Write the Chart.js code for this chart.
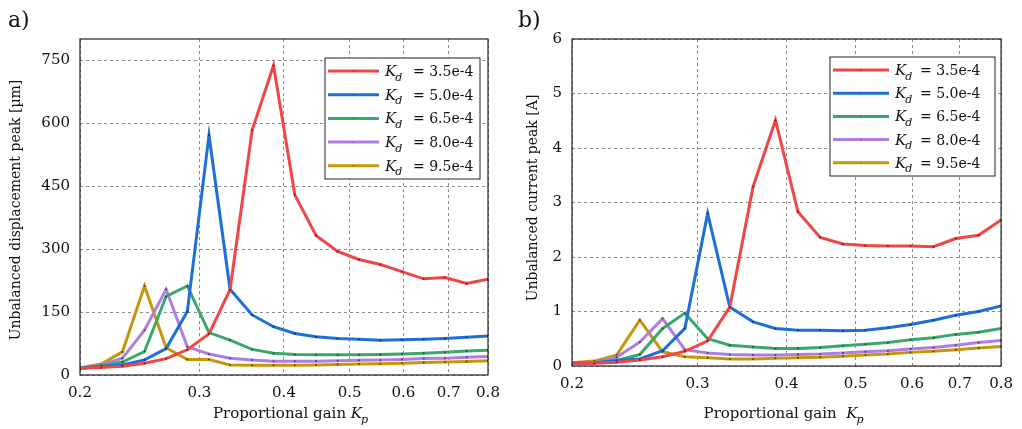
<!DOCTYPE html>
<html>
<head>
<meta charset="utf-8">
<script src="https://cdn.jsdelivr.net/npm/chart.js@4/dist/chart.umd.min.js"></script>
<style>
  html, body { margin: 0; padding: 0; background: #fff; }
  #wrap { position: relative; width: 1022px; height: 429px; }
  .panel { position: absolute; top: 0; width: 511px; height: 429px; }
</style>
</head>
<body>
<div id="wrap">
  <div class="panel" style="left:0"><canvas id="chartA" width="511" height="429"></canvas></div>
  <div class="panel" style="left:511px"><canvas id="chartB" width="511" height="429"></canvas></div>
</div>
<script>
// proportional gain samples (x), log-spaced
const kp = [0.2, 0.215, 0.231, 0.249, 0.268, 0.288, 0.310, 0.333, 0.359, 0.386,
            0.415, 0.446, 0.480, 0.516, 0.555, 0.597, 0.643, 0.691, 0.744, 0.8];
const kdLabels = ['3.5e-4', '5.0e-4', '6.5e-4', '8.0e-4', '9.5e-4'];
const xTicks = [0.2, 0.3, 0.4, 0.5, 0.6, 0.7, 0.8];
const dispTicks = [0, 150, 300, 450, 600, 750];
const currTicks = [0, 1, 2, 3, 4, 5, 6];

// a) unbalanced displacement peak [um]
const disp35 = [16, 18, 21, 28, 39, 60, 98, 203, 583, 737, 429, 332, 294, 275, 263, 246, 229, 232, 218, 228];
const disp50 = [16, 20, 24, 36, 63, 151, 571, 204, 143, 115, 99, 91, 87, 85, 83, 84, 85, 87, 90, 93];
const disp65 = [16, 22, 31, 56, 187, 212, 101, 83, 61, 52, 49, 48, 48, 48, 49, 50, 52, 54, 57, 59];
const disp80 = [15, 24, 40, 107, 204, 67, 50, 40, 36, 33, 33, 33, 34, 35, 36, 37, 39, 40, 42, 44];
const disp95 = [17, 26, 55, 212, 65, 37, 37, 24, 23, 23, 23, 24, 25, 26, 27, 28, 30, 31, 32, 34];

// b) unbalanced current peak [A]
const curr35 = [0.05, 0.05, 0.07, 0.11, 0.17, 0.27, 0.46, 1.08, 3.29, 4.51, 2.83, 2.36, 2.24, 2.21, 2.2, 2.2, 2.19, 2.34, 2.4, 2.68];
const curr50 = [0.05, 0.055, 0.1, 0.13, 0.28, 0.69, 2.8, 1.08, 0.81, 0.69, 0.655, 0.655, 0.645, 0.655, 0.7, 0.76, 0.84, 0.93, 1.0, 1.1];
const curr65 = [0.05, 0.06, 0.1, 0.21, 0.69, 0.97, 0.5, 0.38, 0.35, 0.32, 0.32, 0.34, 0.37, 0.4, 0.43, 0.48, 0.52, 0.58, 0.62, 0.69];
const curr80 = [0.05, 0.06, 0.16, 0.44, 0.87, 0.3, 0.24, 0.21, 0.2, 0.2, 0.21, 0.22, 0.24, 0.26, 0.28, 0.31, 0.34, 0.38, 0.43, 0.47];
const curr95 = [0.06, 0.09, 0.2, 0.84, 0.26, 0.17, 0.15, 0.13, 0.13, 0.14, 0.15, 0.16, 0.18, 0.2, 0.22, 0.25, 0.27, 0.3, 0.33, 0.36];

const colors = ['#f04646', '#1f6fd8', '#3aa86a', '#b07ee0', '#c9960a'];
const serif = "'DejaVu Serif', 'Liberation Serif', serif";
const ink = '#111';

function italicSym(ctx, x, y, main, sub, size) {
    ctx.font = 'italic ' + size + 'px ' + serif;
    ctx.fillText(main, x, y);
    const w = ctx.measureText(main).width;
    ctx.font = 'italic ' + Math.round(size * 0.72) + 'px ' + serif;
    ctx.fillText(sub, x + w - 1, y + size * 0.3);
    return w - 1 + ctx.measureText(sub).width;
}

const decor = {
    id: 'decor',
    afterDraw(chart, args, o) {
        const { ctx, chartArea: a } = chart;
        ctx.save();
        ctx.strokeStyle = '#222';
        ctx.lineWidth = 1.2;
        ctx.setLineDash([]);
        ctx.strokeRect(a.left, a.top, a.width, a.height);

        ctx.fillStyle = ink;
        ctx.textAlign = 'left';
        ctx.textBaseline = 'alphabetic';
        ctx.font = '22px ' + serif;
        ctx.fillText(o.tag, o.tagX, 27);

        // y title
        ctx.save();
        ctx.font = '14px ' + serif;
        ctx.translate(o.yTitleX, o.yTitleY);
        ctx.rotate(-Math.PI / 2);
        ctx.textAlign = 'center';
        ctx.textBaseline = 'middle';
        ctx.fillText(o.yTitle, 0, 0);
        ctx.restore();

        // x title with K_p
        ctx.font = '15px ' + serif;
        const w1 = ctx.measureText(o.xTitle).width;
        ctx.font = 'italic 15px ' + serif;
        const wk = ctx.measureText('K').width + 7;
        const x = o.xTitleX - (w1 + wk) / 2;
        ctx.font = '15px ' + serif;
        ctx.fillText(o.xTitle, x, o.xTitleY);
        italicSym(ctx, x + w1, o.xTitleY, 'K', 'p', 15);

        // legend
        const L = o.legend;
        ctx.fillStyle = '#fff';
        ctx.fillRect(L.x, L.y, L.w, L.h);
        ctx.strokeStyle = '#222';
        ctx.lineWidth = 1;
        ctx.strokeRect(L.x, L.y, L.w, L.h);
        chart.data.datasets.forEach((ds, i) => {
            const ry = L.y + L.row0 + i * L.rowH;
            ctx.strokeStyle = ds.borderColor;
            ctx.lineWidth = 3;
            ctx.beginPath();
            ctx.moveTo(L.x + 3, ry);
            ctx.lineTo(L.x + 3 + L.lineLen, ry);
            ctx.stroke();
            ctx.fillStyle = 'rgba(0,0,0,0.6)';
            ctx.fillRect(L.x + 3 + L.lineLen / 2 - 0.5, ry - 0.5, 1, 1);
            ctx.fillStyle = ink;
            italicSym(ctx, L.x + L.textX, ry + 5, 'K', 'd', 15);
            ctx.font = '14px ' + serif;
            ctx.fillText('= ' + kdLabels[i], L.x + L.eqX, ry + 5);
        });
        ctx.restore();
    }
};

function makeChart(id, series, yMax, yTicks, geo, deco) {
    const datasets = series.map((vals, i) => ({
        label: 'K_d = ' + kdLabels[i],
        data: kp.map((x, j) => ({ x: x, y: vals[j] })),
        borderColor: colors[i],
        backgroundColor: colors[i],
        borderWidth: 3,
        pointRadius: 1,
        pointBorderWidth: 0,
        pointBackgroundColor: 'rgba(0,0,0,0.55)',
        tension: 0,
        fill: false,
        order: i
    }));
    return new Chart(document.getElementById(id), {
        type: 'line',
        data: { datasets: datasets },
        options: {
            responsive: false,
            animation: false,
            layout: { padding: { top: geo.top, right: geo.right, left: 0, bottom: 0 } },
            plugins: { legend: { display: false }, tooltip: { enabled: false }, decor: deco },
            scales: {
                x: {
                    type: 'logarithmic',
                    min: 0.2,
                    max: 0.8,
                    afterBuildTicks: s => { s.ticks = xTicks.map(v => ({ value: v })); },
                    afterFit: s => { s.height = geo.xh; },
                    grid: { color: '#8c8c8c', lineWidth: 1, drawTicks: false, tickLength: 0 },
                    border: { display: false, dash: [3, 3] },
                    ticks: {
                        autoSkip: false, maxRotation: 0, padding: 9, color: ink,
                        font: { family: serif, size: 15 },
                        callback: v => Number(v).toFixed(1)
                    }
                },
                y: {
                    min: 0,
                    max: yMax,
                    afterBuildTicks: s => { s.ticks = yTicks.map(v => ({ value: v })); },
                    afterFit: s => { s.width = geo.yw; },
                    grid: { color: '#8c8c8c', lineWidth: 1, drawTicks: false, tickLength: 0 },
                    border: { display: false, dash: [3, 3] },
                    ticks: {
                        padding: 10, color: ink,
                        font: { family: serif, size: 15 }
                    }
                }
            }
        },
        plugins: [decor]
    });
}

makeChart('chartA', [disp35, disp50, disp65, disp80, disp95], 800, dispTicks,
    { top: 39, right: 23, xh: 54, yw: 80 },
    {
        tag: 'a)', tagX: 8,
        yTitle: 'Unbalanced displacement peak [\u00b5m]', yTitleX: 16, yTitleY: 210,
        xTitle: 'Proportional gain ', xTitleX: 291, xTitleY: 418,
        legend: { x: 325, y: 58, w: 155, h: 121, row0: 13, rowH: 23.7, lineLen: 51, textX: 60, eqX: 88 }
    });

makeChart('chartB', [curr35, curr50, curr65, curr80, curr95], 6, currTicks,
    { top: 39, right: 20, xh: 63, yw: 61 },
    {
        tag: 'b)', tagX: 7,
        yTitle: 'Unbalanced current peak [A]', yTitleX: 22, yTitleY: 198,
        xTitle: 'Proportional gain  ', xTitleX: 273, xTitleY: 418,
        legend: { x: 319, y: 57, w: 165, h: 119, row0: 13, rowH: 23.2, lineLen: 56, textX: 65, eqX: 90 }
    });
</script>
</body>
</html>
